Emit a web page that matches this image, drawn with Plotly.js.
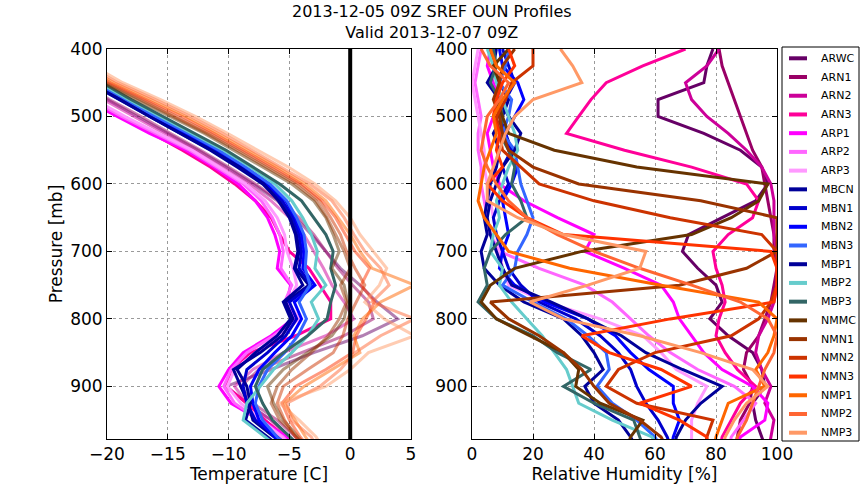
<!DOCTYPE html>
<html><head><meta charset="utf-8">
<script src="https://cdn.plot.ly/plotly-3.0.1.min.js"></script>
<style>html,body{margin:0;padding:0;background:#fff}#chart{width:864px;height:504px}</style>
</head><body><div id="chart"></div>
<script>
const pressure = [400,425,450,475,500,525,550,575,600,625,650,675,700,725,750,775,800,825,850,875,900,925,950,975,1000];
const members = ["ARWC","ARN1","ARN2","ARN3","ARP1","ARP2","ARP3","MBCN","MBN1","MBN2","MBN3","MBP1","MBP2","MBP3","NMMC","NMN1","NMN2","NMN3","NMP1","NMP2","NMP3"];
const colors = ["#660066","#990066","#CC0099","#FF0099","#FF00FF","#FF66FF","#FF99FF","#000099","#0000CC","#0000FF","#3366FF","#000099","#66CCCC","#336666","#663300","#993300","#CC3300","#FF3300","#FF6600","#FF6633","#FF9966"];
const tempOpacity = [0.5,0.5,0.5,1,1,1,1,1,1,1,1,1,1,1,0.5,0.5,0.5,0.5,0.5,0.5,0.5];

// Temperature [C] per member at each pressure level
const T_ARWC = [-26,-24,-22,-20,-17.5,-15,-12.5,-10.2,-8,-6,-4.5,-3.2,-2,-0.8,0.8,2.2,3.9,1,-3,-6.5,-10.2,-8.5,-6.5,-5,-3.5];
const T_ARN1 = [-26,-24,-22,-19.8,-17.2,-14.8,-12.3,-10,-7.8,-5.8,-4.2,-3,-2,-1,0.2,1.5,1.9,-0.5,-4,-7.5,-9,-8,-6,-4.5,-3];
const T_ARN2 = [-26.5,-24.5,-22.5,-20.3,-17.8,-15.3,-12.8,-10.5,-8.3,-6.5,-5,-3.8,-3,-2.2,-1.5,-0.5,0.3,-2,-5.5,-8,-9.5,-8.5,-6.5,-5,-3.5];
const T_ARN3 = [-27.5,-25.5,-23.5,-21.3,-19,-16.3,-13.8,-11.5,-9.5,-7.8,-6.5,-5.8,-5,-3.4,-2.5,-1.6,-1.6,-4.5,-8.2,-9.8,-10.2,-8.5,-7,-5.3,-4];
const T_ARP1 = [-28,-26,-24,-21.8,-19.2,-16.5,-13.5,-11.2,-9.2,-7.8,-6.8,-6.2,-5.8,-6,-4.9,-5.2,-4.7,-6.5,-8.8,-10,-10.8,-9.8,-7.4,-5.2,-4];
const T_ARP2 = [-27.5,-25.5,-23.5,-21.3,-18.8,-16,-13.2,-11,-8.8,-7.3,-6.4,-5.8,-5.5,-5.7,-4.8,-5.4,-4.4,-6.3,-8.5,-9.8,-10.4,-9.5,-7.5,-5.5,-4.2];
const T_ARP3 = [-27,-25,-23,-21,-18.5,-15.8,-13,-10.8,-8.6,-7,-6,-5.4,-5.2,-4.7,-4.4,-5.1,-4.2,-5.8,-7.8,-9.5,-10.1,-9,-7.3,-5.6,-4.3];
const T_MBCN = [-26.5,-24,-21.5,-19,-16.6,-14,-11.5,-9.3,-7.2,-5.8,-4.9,-4.4,-4.2,-4.5,-3.4,-5.3,-4.7,-5.6,-7.4,-9.6,-9,-8.4,-8,-6.2,-4.5];
const T_MBN1 = [-26.3,-23.8,-21.2,-18.8,-16.3,-13.7,-11.2,-9,-7,-5.6,-4.7,-4.2,-4,-4.2,-3.2,-5,-4.4,-5.3,-6.8,-8.5,-8.8,-8.5,-7.8,-6,-4.3];
const T_MBN2 = [-26.2,-23.7,-21.1,-18.6,-16.1,-13.5,-11,-8.8,-6.8,-5.3,-4.5,-4,-3.8,-3.9,-2.9,-4.6,-4,-4.8,-6.2,-7.5,-8.2,-8,-7.5,-6.2,-4.6];
const T_MBN3 = [-26,-23.5,-21,-18.5,-16,-13.3,-10.8,-8.6,-6.6,-5.2,-4.4,-3.8,-3.6,-3.7,-3.3,-4.2,-3.6,-4.3,-5.4,-6.8,-7.5,-7.8,-7.2,-6,-4.5];
const T_MBP1 = [-26.4,-23.9,-21.3,-18.9,-16.5,-13.9,-11.4,-9.1,-7.1,-5.9,-5,-4.5,-4.3,-4.6,-3.9,-5.5,-4.9,-6,-7.8,-9.3,-8.5,-8.2,-8.6,-6.8,-5];
const T_MBP2 = [-25.5,-23,-20.6,-18.2,-15.6,-13,-10.4,-8.2,-6.2,-4.8,-3.9,-3.2,-2.7,-2.9,-2,-3.2,-2.6,-3.5,-4.8,-6.3,-7.4,-8.5,-8.8,-7,-5.2];
const T_MBP3 = [-25.2,-22.8,-20.4,-18,-15.4,-12.8,-10.2,-8,-5.8,-4,-3,-2,-1.4,-1.6,-1.2,-1.6,-1.9,-3.5,-5.5,-7.2,-7.8,-7.2,-6.4,-5,-3.5];
const T_NMMC = [-25.2,-22.8,-20.3,-17.6,-14.8,-12,-9.6,-7.2,-4.8,-3,-2,-1.4,-0.9,-1.5,-0.5,-0.2,-0.5,-1.5,-3.5,-5.5,-6.8,-6.3,-5.5,-4.2,-3];
const T_NMN1 = [-25,-22.6,-20.1,-17.3,-14.5,-11.8,-9.3,-6.9,-4.5,-2.8,-1.9,-1.2,-0.5,0,-0.8,-0.3,-0.9,-1.8,-3.2,-4.8,-6,-6.5,-5.8,-4.4,-3.2];
const T_NMN2 = [-24.8,-22.3,-19.9,-17,-14.2,-11.5,-9,-6.6,-4.2,-2.5,-1.6,-0.8,-0.3,0.4,1.2,0.5,-0.2,-0.6,-1.4,-3.5,-5.5,-6,-5.4,-4.5,-3.3];
const T_NMN3 = [-24.5,-22,-19.7,-16.7,-13.8,-11.2,-8.7,-6.3,-4,-2.3,-1.2,-0.4,0.4,1.6,0.9,2,1.3,0.5,0.2,-2,-4.5,-5.6,-5,-4.1,-3];
const T_NMP1 = [-24.3,-21.8,-19.4,-16.4,-13.5,-10.9,-8.4,-6,-3.7,-2,-1,0,0.8,1.8,5.3,2.5,1,0.3,0.8,-1.5,-3.8,-5.4,-4.5,-3.6,-2.8];
const T_NMP2 = [-24,-21.5,-19.1,-16,-13.1,-10.5,-8.1,-5.6,-3.3,-1.5,-0.5,0.3,1.2,2.5,3.2,1.8,5.3,2.5,0.4,-0.8,-2.5,-5.2,-4.8,-3.2,-2.4];
const T_NMP3 = [-23.6,-21.2,-18.7,-15.6,-12.7,-10.1,-7.6,-5.1,-2.9,-1.2,0,0.8,1.9,3,2.4,1.2,2.8,5.3,1.5,0,-2,-5.8,-4.2,-2.8,-2];

// Relative humidity [%] per member at each pressure level
const RH_ARWC = [79,77,76,61,61,76,88,95,97,93,82,71,69,74,80,82,78,84,92,95,96,92,93,95,97];
const RH_ARN1 = [81,82,84,86,88,90,92,95,96,97,98,99,99,100,99,98,96,94,90,89,92,91,88,87,86];
const RH_ARN2 = [81,77,70,72,77,84,90,95,98,99,99,99,100,100,100,99,97,94,93,95,98,96,99,98,97];
const RH_ARN3 = [70,56,44,39,35,31,50,72,90,94,92,84,79,80,82,83,81,80,83,87,93,88,85,82,81];
const RH_ARP1 = [6,5,7,9,7,5,6,7,9,17,28,40,37,50,62,66,68,72,76,82,92,97,96,88,86];
const RH_ARP2 = [3,2,1,2,3,2,2,3,3,4,5,6,9,22,37,46,52,58,65,74,86,93,89,85,84];
const RH_ARP3 = [2,1,0,1,2,3,4,4,5,6,7,8,9,10,12,24,42,56,62,67,77,74,72,72,72];
const RH_MBCN = [8,7,9,12,10,7,9,8,6,5,4,5,3,4,9,17,30,36,40,43,37,40,48,52,55];
const RH_MBN1 = [10,12,14,11,9,11,13,10,12,9,7,8,10,12,16,22,34,42,48,52,54,57,61,64,66];
const RH_MBN2 = [9,10,15,17,14,11,12,15,13,10,11,12,10,9,14,24,38,47,52,58,66,66,68,66,65];
const RH_MBN3 = [12,11,9,13,12,10,14,15,16,18,20,18,15,14,10,20,31,38,44,45,41,46,54,60,63];
const RH_MBP1 = [6,8,5,9,12,16,14,10,8,6,5,6,8,10,13,26,38,49,57,69,82,75,70,67,66];
const RH_MBP2 = [5,7,8,10,12,14,15,12,10,8,9,7,6,10,9,13,18,23,27,31,33,35,46,59,62];
const RH_MBP3 = [7,8,6,9,10,9,12,14,13,16,18,11,6,4,5,2,8,20,28,39,30,40,53,55,57];
const RH_NMMC = [12,7,9,8,10,12,27,54,97,94,85,72,36,14,6,3,8,19,30,35,34,42,56,52,50];
const RH_NMN1 = [14,10,9,7,9,10,12,20,35,75,100,100,100,90,68,6,12,22,30,36,40,45,55,62,65];
const RH_NMN2 = [20,20,13,11,8,9,10,16,22,40,65,95,100,100,100,98,94,85,60,48,44,54,79,77,76];
const RH_NMN3 = [12,14,10,8,7,9,8,10,5,10,18,30,98,100,100,99,65,36,45,62,72,55,68,77,78];
const RH_NMP1 = [6,8,14,10,7,8,6,4,3,2,4,8,12,32,62,94,100,99,97,93,96,84,82,80,79];
const RH_NMP2 = [3,6,12,9,5,4,3,5,8,12,18,28,40,55,72,88,97,100,99,96,94,92,90,87,86];
const RH_NMP3 = [29,33,36,20,14,11,9,7,5,5,15,30,57,55,38,19,30,55,75,92,97,90,86,83,82];

const tempData = [T_ARWC,T_ARN1,T_ARN2,T_ARN3,T_ARP1,T_ARP2,T_ARP3,T_MBCN,T_MBN1,T_MBN2,T_MBN3,T_MBP1,T_MBP2,T_MBP3,T_NMMC,T_NMN1,T_NMN2,T_NMN3,T_NMP1,T_NMP2,T_NMP3];
const rhData = [RH_ARWC,RH_ARN1,RH_ARN2,RH_ARN3,RH_ARP1,RH_ARP2,RH_ARP3,RH_MBCN,RH_MBN1,RH_MBN2,RH_MBN3,RH_MBP1,RH_MBP2,RH_MBP3,RH_NMMC,RH_NMN1,RH_NMN2,RH_NMN3,RH_NMP1,RH_NMP2,RH_NMP3];

const FONT = "DejaVu Sans, Verdana, sans-serif";
const traces = [];
members.forEach((m, i) => {
  traces.push({type:'scatter', mode:'lines', x:tempData[i], y:pressure, xaxis:'x', yaxis:'y',
    name:m, showlegend:false, opacity:tempOpacity[i], line:{color:colors[i], width:3}, hoverinfo:'skip'});
});
members.forEach((m, i) => {
  traces.push({type:'scatter', mode:'lines', x:rhData[i], y:pressure, xaxis:'x2', yaxis:'y2',
    name:m, showlegend:false, line:{color:colors[i], width:3}, hoverinfo:'skip'});
});

const W = 864, H = 504;
const yDom = [(H-439)/H, (H-49)/H];
const axCommon = {showgrid:true, gridcolor:'#9a9a9a', griddash:'dot', gridwidth:1, zeroline:false,
  showline:true, linecolor:'black', linewidth:1, mirror:'ticks', ticks:'inside', ticklen:5, tickcolor:'black',
  tickfont:{size:17, color:'black', family:FONT}, automargin:false};

// Legend box drawn as shapes + text (to match the compact matplotlib legend spacing)
const shapes = [{type:'line', xref:'x', yref:'y domain', x0:0, x1:0, y0:0, y1:1, layer:'above', line:{color:'black', width:4}},
  {type:'rect', xref:'paper', yref:'paper', x0:782/W, x1:859/W, y0:1-441/H, y1:1-47/H, line:{color:'black', width:1}, fillcolor:'white', layer:'above'}];
const annotations = [
  {xref:'paper', yref:'paper', x:0.5, y:1-22.5/H, xanchor:'center', yanchor:'middle', showarrow:false,
    text:'2013-12-05 09Z SREF OUN Profiles<br>Valid 2013-12-07 09Z', font:{size:16, family:FONT, color:'black'}}
];
members.forEach((m, i) => {
  const yy = 1 - (58.3 + i*18.72)/H;
  shapes.push({type:'line', xref:'paper', yref:'paper', x0:789/W, x1:807/W, y0:yy, y1:yy, layer:'above', line:{color:colors[i], width:4}});
  annotations.push({xref:'paper', yref:'paper', x:819/W, y:yy, xanchor:'left', yanchor:'middle', showarrow:false,
    text:m, font:{size:11, family:FONT, color:'black'}});
});

const layout = {
  width:W, height:H, margin:{l:0,r:0,t:0,b:0}, paper_bgcolor:'white', plot_bgcolor:'white',
  font:{family:FONT, color:'black'},
  showlegend:false,
  xaxis: Object.assign({}, axCommon, {domain:[107/W, 411/W], range:[-20,5], dtick:5, anchor:'y',
    title:{text:'Temperature [C]', font:{size:17, family:FONT}, standoff:2}}),
  yaxis: Object.assign({}, axCommon, {domain:yDom, range:[978,400], dtick:100, anchor:'x',
    title:{text:'Pressure [mb]', font:{size:17, family:FONT}, standoff:3}}),
  xaxis2: Object.assign({}, axCommon, {domain:[472/W, 777/W], range:[0,100], dtick:20, anchor:'y2',
    title:{text:'Relative Humidity [%]', font:{size:17, family:FONT}, standoff:2}}),
  yaxis2: Object.assign({}, axCommon, {domain:yDom, range:[978,400], dtick:100, anchor:'x2'}),
  shapes: shapes,
  annotations: annotations
};
Plotly.newPlot('chart', traces, layout, {staticPlot:true, displayModeBar:false});
</script></body></html>
